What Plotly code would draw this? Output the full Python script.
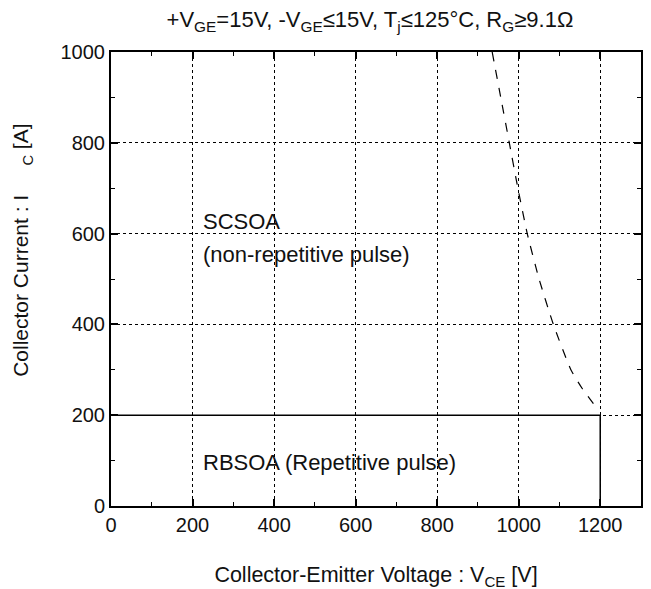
import plotly.graph_objects as go

# Data
rbsoa_v = [0, 1200, 1200]
rbsoa_i = [200, 200, 0]
scsoa_v = [935, 956, 977, 998, 1021, 1050, 1085, 1128, 1155, 1188]
scsoa_i = [1000, 900, 800, 700, 600, 500, 400, 300, 260, 220]
x_ticks = [0, 200, 400, 600, 800, 1000, 1200]
y_ticks = [0, 200, 400, 600, 800, 1000]

FONT = "Liberation Sans, Arial, sans-serif"

fig = go.Figure()
fig.add_trace(go.Scatter(x=rbsoa_v, y=rbsoa_i, mode="lines",
                         line=dict(color="black", width=1.5), showlegend=False))
fig.add_trace(go.Scatter(x=scsoa_v, y=scsoa_i, mode="lines",
                         line_shape="spline", line_smoothing=0.5,
                         line=dict(color="black", width=1.2, dash="dash"), showlegend=False))

axis_common = dict(
    showline=True, linecolor="black", linewidth=2, mirror="ticks",
    ticks="inside", ticklen=7, tickwidth=1.5, tickcolor="black",
    showgrid=True, gridcolor="black", griddash="dot", gridwidth=1,
    zeroline=False,
    tickfont=dict(family=FONT, size=20, color="#111"),
    minor=dict(ticks="inside", ticklen=4, tickwidth=1, tickcolor="black", dtick=100, showgrid=False),
)

fig.update_xaxes(range=[0, 1300], tickvals=x_ticks, **axis_common,
                 title=dict(text="Collector-Emitter Voltage : V<sub>CE</sub> [V]",
                            font=dict(family=FONT, size=21.5, color="#111"), standoff=32))
fig.update_yaxes(range=[0, 1000], tickvals=y_ticks, **axis_common)

# y-axis title (placed as rotated text to match the reference position)
fig.add_annotation(xref="paper", yref="paper", x=0, y=0.562, xshift=-89,
                   xanchor="center", yanchor="middle", textangle=-90, showarrow=False,
                   text="Collector Current : I&nbsp;&nbsp;&nbsp;&nbsp;&nbsp;<sub>C</sub> [A]",
                   font=dict(family=FONT, size=21, color="#111"))

fig.add_annotation(x=220, y=626, text="SCSOA", showarrow=False, xanchor="left",
                   font=dict(family=FONT, size=22, color="#111"))
fig.add_annotation(x=220, y=553, text="(non-repetitive pulse)", showarrow=False, xanchor="left",
                   font=dict(family=FONT, size=22, color="#111"))
fig.add_annotation(x=220, y=95, text="RBSOA (Repetitive pulse)", showarrow=False, xanchor="left",
                   font=dict(family=FONT, size=22, color="#111"))

fig.update_layout(
    width=651, height=589,
    margin=dict(l=103, r=18, t=44, b=91),
    paper_bgcolor="white", plot_bgcolor="white",
    title=dict(text="+V<sub>GE</sub>=15V, -V<sub>GE</sub>≤15V, T<sub>j</sub>≤125°C, R<sub>G</sub>≥9.1Ω",
               x=0.556, xanchor="center", y=0.980, yanchor="middle",
               font=dict(family=FONT, size=22, color="#111")),
)

fig.write_html("out.html")
